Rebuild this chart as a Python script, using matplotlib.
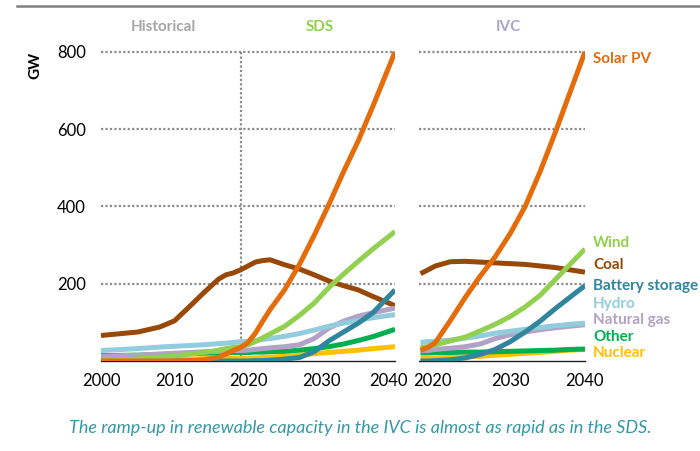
import numpy as np
import matplotlib.pyplot as plt
import matplotlib.transforms as mtransforms
from matplotlib.lines import Line2D

plt.rcParams['font.family'] = ['Lato', 'DejaVu Sans']

# SDS panel (includes historical years)
years_sds = [2000, 2005, 2008, 2010, 2012, 2014, 2016, 2017, 2018, 2019, 2020,
             2021, 2022, 2023, 2025, 2027, 2029, 2031, 2033, 2035, 2037, 2040]
coal_sds = [66, 75, 88, 104, 140, 177, 212, 223, 228, 236, 246,
            256, 260, 262, 249, 238, 223, 207, 195, 184, 167, 143]
solar_sds = [0, 0, 0, 0, 1, 3, 10, 18, 27, 35, 48,
             72, 103, 133, 185, 250, 325, 405, 490, 570, 660, 800]
wind_sds = [1, 5, 10, 13, 18, 22, 28, 32, 35, 37, 42,
            50, 60, 70, 90, 118, 150, 190, 225, 258, 290, 335]
hydro_sds = [27, 32, 36, 38, 40, 42, 45, 46, 48, 50, 51,
             53, 56, 58, 64, 71, 80, 90, 98, 105, 112, 120]
gas_sds = [12, 15, 18, 20, 22, 24, 25, 26, 27, 27, 28,
           30, 32, 34, 37, 42, 58, 85, 103, 116, 125, 137]
other_sds = [14, 15, 17, 18, 19, 20, 21, 21, 22, 22, 22,
             23, 23, 24, 25, 28, 32, 37, 44, 53, 63, 82]
nuclear_sds = [3, 3, 4, 5, 5, 6, 7, 7, 7, 7, 7,
               8, 9, 10, 12, 15, 19, 22, 25, 28, 32, 37]
battery_sds = [np.nan, np.nan, 0, 0, 0, 0, 0, 0, 0, 0, 0,
               1, 1, 2, 5, 9, 24, 52, 75, 98, 125, 184]

# IVC panel
years_ivc = [2018, 2019, 2020, 2022, 2024, 2026, 2028, 2030, 2032, 2034, 2036, 2038, 2040]
solar_ivc = [28, 35, 48, 105, 165, 220, 270, 330, 400, 490, 590, 695, 800]
coal_ivc = [226, 236, 246, 257, 258, 256, 254, 252, 250, 246, 242, 236, 230]
wind_ivc = [35, 37, 42, 52, 62, 78, 95, 115, 140, 170, 210, 250, 290]
battery_ivc = [0, 0, 1, 3, 8, 17, 30, 50, 75, 103, 135, 165, 195]
hydro_ivc = [48, 50, 51, 54, 59, 65, 72, 77, 82, 87, 91, 95, 98]
gas_ivc = [27, 27, 30, 33, 37, 44, 58, 68, 75, 81, 86, 90, 94]
other_ivc = [21, 21, 22, 22, 23, 23, 24, 25, 26, 27, 28, 30, 31]
nuclear_ivc = [7, 7, 8, 9, 11, 12, 15, 17, 20, 22, 25, 28, 30]

labels = ['Solar PV', 'Wind', 'Coal', 'Battery storage', 'Hydro', 'Natural gas', 'Other', 'Nuclear']
colors = {'Solar PV': '#e46c0a', 'Wind': '#92d050', 'Coal': '#984807',
          'Battery storage': '#31859c', 'Hydro': '#93cddd', 'Natural gas': '#b3a2c7',
          'Other': '#00b050', 'Nuclear': '#ffc000'}
sds = {'Solar PV': solar_sds, 'Wind': wind_sds, 'Coal': coal_sds, 'Battery storage': battery_sds,
       'Hydro': hydro_sds, 'Natural gas': gas_sds, 'Other': other_sds, 'Nuclear': nuclear_sds}
ivc = {'Solar PV': solar_ivc, 'Wind': wind_ivc, 'Coal': coal_ivc, 'Battery storage': battery_ivc,
       'Hydro': hydro_ivc, 'Natural gas': gas_ivc, 'Other': other_ivc, 'Nuclear': nuclear_ivc}
draw_order = ['Coal', 'Nuclear', 'Other', 'Natural gas', 'Hydro', 'Battery storage', 'Wind', 'Solar PV']

fig = plt.figure(figsize=(7, 4.51), dpi=100)
bottom, height = 0.1996, 0.698
ax1 = fig.add_axes([0.1443, bottom, 0.42, height])
ax2 = fig.add_axes([0.5986, bottom, 0.237, height])

grid_kw = dict(color='#8c8c8c', lw=1.6, linestyle=(0, (1, 1)), zorder=1)
for ax, yrs, data, xl, ticks in [(ax1, years_sds, sds, (2000, 2040), [2000, 2010, 2020, 2030, 2040]),
                                 (ax2, years_ivc, ivc, (2017.8, 2040), [2020, 2030, 2040])]:
    for gy in [200, 400, 600, 800]:
        ax.axhline(gy, **grid_kw)
    for name in draw_order:
        ax.plot(yrs, data[name], color=colors[name], lw=3.6, solid_capstyle='butt',
                solid_joinstyle='round', zorder=3)
    ax.set_xlim(*xl)
    ax.set_ylim(0, 815)
    ax.set_xticks(ticks)
    ax.set_xticklabels([str(t) for t in ticks], fontsize=12)
    ax.tick_params(length=0, pad=9)
    for s in ['top', 'right', 'left']:
        ax.spines[s].set_visible(False)
    ax.spines['bottom'].set_color('#222222')
    ax.spines['bottom'].set_linewidth(1.0)

# nudge the two crowded labels apart, like in the original
shift_left = mtransforms.ScaledTranslation(-7 / 100, 0, fig.dpi_scale_trans)
shift_right = mtransforms.ScaledTranslation(-3 / 100, 0, fig.dpi_scale_trans)
lab = ax1.get_xticklabels()[-1]
lab.set_transform(lab.get_transform() + shift_left)
lab = ax2.get_xticklabels()[0]
lab.set_transform(lab.get_transform() + shift_right)

ax1.axvline(2019, ymax=800 / 815, **grid_kw)
ax1.set_yticks([200, 400, 600, 800])
ax1.set_yticklabels(['200', '400', '600', '800'], fontsize=12)
ax1.tick_params(axis='y', pad=11)
ax2.set_yticks([])

# series labels at the right
label_y = {'Solar PV': 782, 'Wind': 306, 'Coal': 249, 'Battery storage': 194,
           'Hydro': 148, 'Natural gas': 106, 'Other': 62, 'Nuclear': 21}
for name in labels:
    ax2.text(2041.1, label_y[name], name, color=colors[name], fontsize=11,
             fontweight='bold', va='center', ha='left', clip_on=False)

# headers
fig.text(163 / 700, 1 - 27 / 451, 'Historical', color='#a6a6a6', fontsize=11,
         fontweight='bold', ha='center', va='center')
fig.text(320 / 700, 1 - 27 / 451, 'SDS', color='#92d050', fontsize=11,
         fontweight='bold', ha='center', va='center')
fig.text(508 / 700, 1 - 27 / 451, 'IVC', color='#aca3cb', fontsize=11,
         fontweight='bold', ha='center', va='center')
fig.text(35 / 700, 1 - 65 / 451, 'GW', fontsize=11, fontweight='bold',
         rotation=90, ha='center', va='center')

fig.add_artist(Line2D([17 / 700, 1], [1 - 6 / 451, 1 - 6 / 451], color='#808080', lw=1.8))

fig.text(360 / 700, 1 - 428 / 451,
         'The ramp-up in renewable capacity in the IVC is almost as rapid as in the SDS.',
         color='#3598a6', fontsize=13, style='italic', ha='center', va='center')

fig.savefig('out.png', dpi=100)
